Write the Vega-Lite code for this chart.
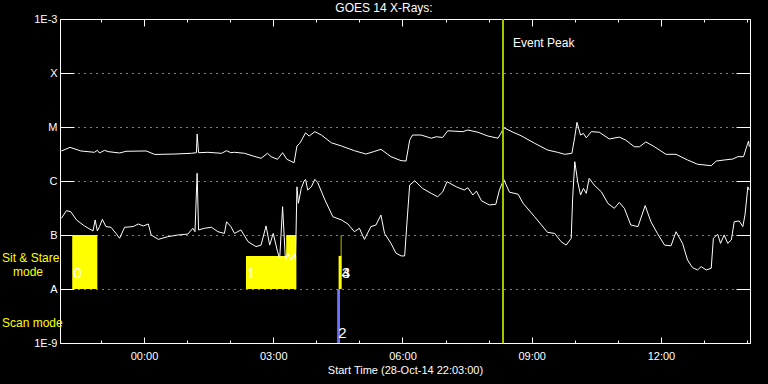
{
  "$schema": "https://vega.github.io/schema/vega-lite/v6.json",
  "width": 690,
  "height": 324,
  "autosize": {"type": "none"},
  "padding": {"left": 60, "top": 19, "right": 18, "bottom": 41},
  "background": "#000000",
  "title": {"text": "GOES 14 X-Rays:", "color": "white", "font": "Liberation Sans", "fontSize": 12, "fontWeight": "normal", "dx": -21, "offset": -2},
  "config": {
    "view": {"stroke": "white", "strokeWidth": 1, "fill": "black"},
    "axis": {"domain": false, "labelColor": "white", "titleColor": "white", "labelFont": "Liberation Sans", "titleFont": "Liberation Sans", "labelFontSize": 11, "titleFontSize": 11, "titleFontWeight": "normal", "tickColor": "white", "gridColor": "white"}
  },
  "datasets": {
    "xrs": [
      {"band": "1-8 A", "t": "2014-10-28T22:05:00Z", "flux": 3.6e-6},
      {"band": "1-8 A", "t": "2014-10-28T22:17:00Z", "flux": 4.2e-6},
      {"band": "1-8 A", "t": "2014-10-28T22:32:00Z", "flux": 3.6e-6},
      {"band": "1-8 A", "t": "2014-10-28T22:51:00Z", "flux": 3.4e-6},
      {"band": "1-8 A", "t": "2014-10-28T22:55:00Z", "flux": 3.7e-6},
      {"band": "1-8 A", "t": "2014-10-28T22:58:00Z", "flux": 3.3e-6},
      {"band": "1-8 A", "t": "2014-10-28T23:05:00Z", "flux": 3.7e-6},
      {"band": "1-8 A", "t": "2014-10-28T23:10:00Z", "flux": 3.5e-6},
      {"band": "1-8 A", "t": "2014-10-28T23:26:00Z", "flux": 3.3e-6},
      {"band": "1-8 A", "t": "2014-10-28T23:35:00Z", "flux": 3.55e-6},
      {"band": "1-8 A", "t": "2014-10-29T00:03:00Z", "flux": 3.6e-6},
      {"band": "1-8 A", "t": "2014-10-29T00:15:00Z", "flux": 3.1e-6},
      {"band": "1-8 A", "t": "2014-10-29T00:43:00Z", "flux": 3.16e-6},
      {"band": "1-8 A", "t": "2014-10-29T01:06:00Z", "flux": 3.26e-6},
      {"band": "1-8 A", "t": "2014-10-29T01:13:00Z", "flux": 3.34e-6},
      {"band": "1-8 A", "t": "2014-10-29T01:14:00Z", "flux": 7.4e-6},
      {"band": "1-8 A", "t": "2014-10-29T01:16:00Z", "flux": 3.34e-6},
      {"band": "1-8 A", "t": "2014-10-29T01:29:00Z", "flux": 3.4e-6},
      {"band": "1-8 A", "t": "2014-10-29T01:48:00Z", "flux": 3.26e-6},
      {"band": "1-8 A", "t": "2014-10-29T01:55:00Z", "flux": 3.64e-6},
      {"band": "1-8 A", "t": "2014-10-29T02:01:00Z", "flux": 3.34e-6},
      {"band": "1-8 A", "t": "2014-10-29T02:06:00Z", "flux": 3.4e-6},
      {"band": "1-8 A", "t": "2014-10-29T02:20:00Z", "flux": 3.26e-6},
      {"band": "1-8 A", "t": "2014-10-29T02:32:00Z", "flux": 2.9e-6},
      {"band": "1-8 A", "t": "2014-10-29T02:43:00Z", "flux": 2.63e-6},
      {"band": "1-8 A", "t": "2014-10-29T02:52:00Z", "flux": 3.26e-6},
      {"band": "1-8 A", "t": "2014-10-29T02:57:00Z", "flux": 2.82e-6},
      {"band": "1-8 A", "t": "2014-10-29T03:06:00Z", "flux": 2.52e-6},
      {"band": "1-8 A", "t": "2014-10-29T03:13:00Z", "flux": 3.34e-6},
      {"band": "1-8 A", "t": "2014-10-29T03:19:00Z", "flux": 2.52e-6},
      {"band": "1-8 A", "t": "2014-10-29T03:29:00Z", "flux": 2.18e-6},
      {"band": "1-8 A", "t": "2014-10-29T03:33:00Z", "flux": 4.45e-6},
      {"band": "1-8 A", "t": "2014-10-29T03:37:00Z", "flux": 5.0e-6},
      {"band": "1-8 A", "t": "2014-10-29T03:41:00Z", "flux": 6.2e-6},
      {"band": "1-8 A", "t": "2014-10-29T03:45:00Z", "flux": 7.8e-6},
      {"band": "1-8 A", "t": "2014-10-29T03:50:00Z", "flux": 6.8e-6},
      {"band": "1-8 A", "t": "2014-10-29T03:58:00Z", "flux": 8.2e-6},
      {"band": "1-8 A", "t": "2014-10-29T04:07:00Z", "flux": 7.1e-6},
      {"band": "1-8 A", "t": "2014-10-29T04:21:00Z", "flux": 5.1e-6},
      {"band": "1-8 A", "t": "2014-10-29T04:35:00Z", "flux": 4.45e-6},
      {"band": "1-8 A", "t": "2014-10-29T04:53:00Z", "flux": 3.64e-6},
      {"band": "1-8 A", "t": "2014-10-29T05:09:00Z", "flux": 3.16e-6},
      {"band": "1-8 A", "t": "2014-10-29T05:20:00Z", "flux": 3.5e-6},
      {"band": "1-8 A", "t": "2014-10-29T05:30:00Z", "flux": 3.86e-6},
      {"band": "1-8 A", "t": "2014-10-29T05:44:00Z", "flux": 2.82e-6},
      {"band": "1-8 A", "t": "2014-10-29T05:58:00Z", "flux": 2.38e-6},
      {"band": "1-8 A", "t": "2014-10-29T06:05:00Z", "flux": 2.34e-6},
      {"band": "1-8 A", "t": "2014-10-29T06:10:00Z", "flux": 5.7e-6},
      {"band": "1-8 A", "t": "2014-10-29T06:14:00Z", "flux": 7.1e-6},
      {"band": "1-8 A", "t": "2014-10-29T06:26:00Z", "flux": 7.1e-6},
      {"band": "1-8 A", "t": "2014-10-29T06:40:00Z", "flux": 6.2e-6},
      {"band": "1-8 A", "t": "2014-10-29T06:47:00Z", "flux": 6.6e-6},
      {"band": "1-8 A", "t": "2014-10-29T06:56:00Z", "flux": 6.4e-6},
      {"band": "1-8 A", "t": "2014-10-29T07:03:00Z", "flux": 8.5e-6},
      {"band": "1-8 A", "t": "2014-10-29T07:24:00Z", "flux": 8.2e-6},
      {"band": "1-8 A", "t": "2014-10-29T07:31:00Z", "flux": 8.8e-6},
      {"band": "1-8 A", "t": "2014-10-29T07:45:00Z", "flux": 8.0e-6},
      {"band": "1-8 A", "t": "2014-10-29T07:59:00Z", "flux": 6.8e-6},
      {"band": "1-8 A", "t": "2014-10-29T08:13:00Z", "flux": 6.2e-6},
      {"band": "1-8 A", "t": "2014-10-29T08:17:00Z", "flux": 7.6e-6},
      {"band": "1-8 A", "t": "2014-10-29T08:21:00Z", "flux": 9.7e-6},
      {"band": "1-8 A", "t": "2014-10-29T08:34:00Z", "flux": 8.0e-6},
      {"band": "1-8 A", "t": "2014-10-29T08:45:00Z", "flux": 6.9e-6},
      {"band": "1-8 A", "t": "2014-10-29T09:04:00Z", "flux": 5.0e-6},
      {"band": "1-8 A", "t": "2014-10-29T09:22:00Z", "flux": 3.75e-6},
      {"band": "1-8 A", "t": "2014-10-29T09:36:00Z", "flux": 3.4e-6},
      {"band": "1-8 A", "t": "2014-10-29T09:46:00Z", "flux": 3.12e-6},
      {"band": "1-8 A", "t": "2014-10-29T09:56:00Z", "flux": 3.26e-6},
      {"band": "1-8 A", "t": "2014-10-29T10:00:00Z", "flux": 6.6e-6},
      {"band": "1-8 A", "t": "2014-10-29T10:03:00Z", "flux": 1.22e-5},
      {"band": "1-8 A", "t": "2014-10-29T10:08:00Z", "flux": 7.1e-6},
      {"band": "1-8 A", "t": "2014-10-29T10:12:00Z", "flux": 7.6e-6},
      {"band": "1-8 A", "t": "2014-10-29T10:16:00Z", "flux": 6.3e-6},
      {"band": "1-8 A", "t": "2014-10-29T10:23:00Z", "flux": 8.2e-6},
      {"band": "1-8 A", "t": "2014-10-29T10:34:00Z", "flux": 8.0e-6},
      {"band": "1-8 A", "t": "2014-10-29T10:48:00Z", "flux": 6.0e-6},
      {"band": "1-8 A", "t": "2014-10-29T11:02:00Z", "flux": 6.5e-6},
      {"band": "1-8 A", "t": "2014-10-29T11:11:00Z", "flux": 5.7e-6},
      {"band": "1-8 A", "t": "2014-10-29T11:23:00Z", "flux": 4.3e-6},
      {"band": "1-8 A", "t": "2014-10-29T11:30:00Z", "flux": 4.3e-6},
      {"band": "1-8 A", "t": "2014-10-29T11:39:00Z", "flux": 5.3e-6},
      {"band": "1-8 A", "t": "2014-10-29T11:51:00Z", "flux": 4.3e-6},
      {"band": "1-8 A", "t": "2014-10-29T12:07:00Z", "flux": 3.12e-6},
      {"band": "1-8 A", "t": "2014-10-29T12:21:00Z", "flux": 3.12e-6},
      {"band": "1-8 A", "t": "2014-10-29T12:37:00Z", "flux": 2.45e-6},
      {"band": "1-8 A", "t": "2014-10-29T12:51:00Z", "flux": 2.04e-6},
      {"band": "1-8 A", "t": "2014-10-29T13:10:00Z", "flux": 1.92e-6},
      {"band": "1-8 A", "t": "2014-10-29T13:17:00Z", "flux": 2.34e-6},
      {"band": "1-8 A", "t": "2014-10-29T13:28:00Z", "flux": 2.45e-6},
      {"band": "1-8 A", "t": "2014-10-29T13:40:00Z", "flux": 2.55e-6},
      {"band": "1-8 A", "t": "2014-10-29T13:47:00Z", "flux": 2.82e-6},
      {"band": "1-8 A", "t": "2014-10-29T13:55:00Z", "flux": 2.82e-6},
      {"band": "1-8 A", "t": "2014-10-29T14:00:00Z", "flux": 4.6e-6},
      {"band": "1-8 A", "t": "2014-10-29T14:02:00Z", "flux": 5.5e-6},
      {"band": "1-8 A", "t": "2014-10-29T14:03:00Z", "flux": 4.3e-6},
      {"band": "0.5-4 A", "t": "2014-10-28T22:05:00Z", "flux": 2.04e-7},
      {"band": "0.5-4 A", "t": "2014-10-28T22:12:00Z", "flux": 2.82e-7},
      {"band": "0.5-4 A", "t": "2014-10-28T22:18:00Z", "flux": 2.7e-7},
      {"band": "0.5-4 A", "t": "2014-10-28T22:26:00Z", "flux": 1.9e-7},
      {"band": "0.5-4 A", "t": "2014-10-28T22:37:00Z", "flux": 1.47e-7},
      {"band": "0.5-4 A", "t": "2014-10-28T22:49:00Z", "flux": 1.19e-7},
      {"band": "0.5-4 A", "t": "2014-10-28T22:52:00Z", "flux": 1.9e-7},
      {"band": "0.5-4 A", "t": "2014-10-28T22:55:00Z", "flux": 1.19e-7},
      {"band": "0.5-4 A", "t": "2014-10-28T22:58:00Z", "flux": 1.43e-7},
      {"band": "0.5-4 A", "t": "2014-10-28T23:02:00Z", "flux": 1.95e-7},
      {"band": "0.5-4 A", "t": "2014-10-28T23:07:00Z", "flux": 1.43e-7},
      {"band": "0.5-4 A", "t": "2014-10-28T23:14:00Z", "flux": 1.39e-7},
      {"band": "0.5-4 A", "t": "2014-10-28T23:21:00Z", "flux": 1.07e-7},
      {"band": "0.5-4 A", "t": "2014-10-28T23:26:00Z", "flux": 8.7e-8},
      {"band": "0.5-4 A", "t": "2014-10-28T23:33:00Z", "flux": 1.39e-7},
      {"band": "0.5-4 A", "t": "2014-10-28T23:45:00Z", "flux": 1.43e-7},
      {"band": "0.5-4 A", "t": "2014-10-28T23:52:00Z", "flux": 1.6e-7},
      {"band": "0.5-4 A", "t": "2014-10-28T23:59:00Z", "flux": 1.47e-7},
      {"band": "0.5-4 A", "t": "2014-10-29T00:06:00Z", "flux": 1.6e-7},
      {"band": "0.5-4 A", "t": "2014-10-29T00:10:00Z", "flux": 1.0e-7},
      {"band": "0.5-4 A", "t": "2014-10-29T00:20:00Z", "flux": 8.3e-8},
      {"band": "0.5-4 A", "t": "2014-10-29T00:33:00Z", "flux": 9.3e-8},
      {"band": "0.5-4 A", "t": "2014-10-29T00:47:00Z", "flux": 1.0e-7},
      {"band": "0.5-4 A", "t": "2014-10-29T01:01:00Z", "flux": 1.04e-7},
      {"band": "0.5-4 A", "t": "2014-10-29T01:08:00Z", "flux": 1.33e-7},
      {"band": "0.5-4 A", "t": "2014-10-29T01:11:00Z", "flux": 1.15e-7},
      {"band": "0.5-4 A", "t": "2014-10-29T01:14:00Z", "flux": 1.39e-6},
      {"band": "0.5-4 A", "t": "2014-10-29T01:16:00Z", "flux": 1.24e-7},
      {"band": "0.5-4 A", "t": "2014-10-29T01:24:00Z", "flux": 1.33e-7},
      {"band": "0.5-4 A", "t": "2014-10-29T01:34:00Z", "flux": 1.39e-7},
      {"band": "0.5-4 A", "t": "2014-10-29T01:43:00Z", "flux": 1.15e-7},
      {"band": "0.5-4 A", "t": "2014-10-29T01:52:00Z", "flux": 1.07e-7},
      {"band": "0.5-4 A", "t": "2014-10-29T01:55:00Z", "flux": 1.76e-7},
      {"band": "0.5-4 A", "t": "2014-10-29T02:01:00Z", "flux": 1.43e-7},
      {"band": "0.5-4 A", "t": "2014-10-29T02:06:00Z", "flux": 1.07e-7},
      {"band": "0.5-4 A", "t": "2014-10-29T02:15:00Z", "flux": 1.24e-7},
      {"band": "0.5-4 A", "t": "2014-10-29T02:25:00Z", "flux": 7.5e-8},
      {"band": "0.5-4 A", "t": "2014-10-29T02:36:00Z", "flux": 6.1e-8},
      {"band": "0.5-4 A", "t": "2014-10-29T02:43:00Z", "flux": 6.5e-8},
      {"band": "0.5-4 A", "t": "2014-10-29T02:50:00Z", "flux": 1.47e-7},
      {"band": "0.5-4 A", "t": "2014-10-29T02:55:00Z", "flux": 6.5e-8},
      {"band": "0.5-4 A", "t": "2014-10-29T03:00:00Z", "flux": 1.07e-7},
      {"band": "0.5-4 A", "t": "2014-10-29T03:06:00Z", "flux": 4.9e-8},
      {"band": "0.5-4 A", "t": "2014-10-29T03:09:00Z", "flux": 3.7e-8},
      {"band": "0.5-4 A", "t": "2014-10-29T03:13:00Z", "flux": 3.34e-7},
      {"band": "0.5-4 A", "t": "2014-10-29T03:17:00Z", "flux": 3.44e-8},
      {"band": "0.5-4 A", "t": "2014-10-29T03:20:00Z", "flux": 4.6e-8},
      {"band": "0.5-4 A", "t": "2014-10-29T03:25:00Z", "flux": 3.44e-8},
      {"band": "0.5-4 A", "t": "2014-10-29T03:29:00Z", "flux": 4.6e-8},
      {"band": "0.5-4 A", "t": "2014-10-29T03:31:00Z", "flux": 3.44e-8},
      {"band": "0.5-4 A", "t": "2014-10-29T03:33:00Z", "flux": 7.8e-7},
      {"band": "0.5-4 A", "t": "2014-10-29T03:35:00Z", "flux": 3.86e-7},
      {"band": "0.5-4 A", "t": "2014-10-29T03:39:00Z", "flux": 7.3e-7},
      {"band": "0.5-4 A", "t": "2014-10-29T03:43:00Z", "flux": 1.0e-6},
      {"band": "0.5-4 A", "t": "2014-10-29T03:45:00Z", "flux": 1.07e-6},
      {"band": "0.5-4 A", "t": "2014-10-29T03:48:00Z", "flux": 6.8e-7},
      {"band": "0.5-4 A", "t": "2014-10-29T03:53:00Z", "flux": 7.8e-7},
      {"band": "0.5-4 A", "t": "2014-10-29T03:58:00Z", "flux": 1.07e-6},
      {"band": "0.5-4 A", "t": "2014-10-29T04:02:00Z", "flux": 9.3e-7},
      {"band": "0.5-4 A", "t": "2014-10-29T04:12:00Z", "flux": 4.45e-7},
      {"band": "0.5-4 A", "t": "2014-10-29T04:23:00Z", "flux": 2.18e-7},
      {"band": "0.5-4 A", "t": "2014-10-29T04:35:00Z", "flux": 1.9e-7},
      {"band": "0.5-4 A", "t": "2014-10-29T04:44:00Z", "flux": 1.6e-7},
      {"band": "0.5-4 A", "t": "2014-10-29T04:53:00Z", "flux": 1.15e-7},
      {"band": "0.5-4 A", "t": "2014-10-29T05:00:00Z", "flux": 1.33e-7},
      {"band": "0.5-4 A", "t": "2014-10-29T05:07:00Z", "flux": 8.3e-8},
      {"band": "0.5-4 A", "t": "2014-10-29T05:16:00Z", "flux": 1.43e-7},
      {"band": "0.5-4 A", "t": "2014-10-29T05:23:00Z", "flux": 1.53e-7},
      {"band": "0.5-4 A", "t": "2014-10-29T05:30:00Z", "flux": 2.34e-7},
      {"band": "0.5-4 A", "t": "2014-10-29T05:35:00Z", "flux": 1.07e-7},
      {"band": "0.5-4 A", "t": "2014-10-29T05:44:00Z", "flux": 7.0e-8},
      {"band": "0.5-4 A", "t": "2014-10-29T05:51:00Z", "flux": 4.6e-8},
      {"band": "0.5-4 A", "t": "2014-10-29T05:58:00Z", "flux": 4.1e-8},
      {"band": "0.5-4 A", "t": "2014-10-29T06:03:00Z", "flux": 4.1e-8},
      {"band": "0.5-4 A", "t": "2014-10-29T06:07:00Z", "flux": 2.34e-7},
      {"band": "0.5-4 A", "t": "2014-10-29T06:10:00Z", "flux": 8.4e-7},
      {"band": "0.5-4 A", "t": "2014-10-29T06:17:00Z", "flux": 1.01e-6},
      {"band": "0.5-4 A", "t": "2014-10-29T06:28:00Z", "flux": 7.3e-7},
      {"band": "0.5-4 A", "t": "2014-10-29T06:40:00Z", "flux": 5.9e-7},
      {"band": "0.5-4 A", "t": "2014-10-29T06:49:00Z", "flux": 5.1e-7},
      {"band": "0.5-4 A", "t": "2014-10-29T06:56:00Z", "flux": 6.3e-7},
      {"band": "0.5-4 A", "t": "2014-10-29T07:02:00Z", "flux": 9.7e-7},
      {"band": "0.5-4 A", "t": "2014-10-29T07:15:00Z", "flux": 7.8e-7},
      {"band": "0.5-4 A", "t": "2014-10-29T07:26:00Z", "flux": 6.8e-7},
      {"band": "0.5-4 A", "t": "2014-10-29T07:31:00Z", "flux": 7.5e-7},
      {"band": "0.5-4 A", "t": "2014-10-29T07:38:00Z", "flux": 5.5e-7},
      {"band": "0.5-4 A", "t": "2014-10-29T07:43:00Z", "flux": 6.5e-7},
      {"band": "0.5-4 A", "t": "2014-10-29T07:50:00Z", "flux": 4.3e-7},
      {"band": "0.5-4 A", "t": "2014-10-29T08:01:00Z", "flux": 3.6e-7},
      {"band": "0.5-4 A", "t": "2014-10-29T08:10:00Z", "flux": 3.7e-7},
      {"band": "0.5-4 A", "t": "2014-10-29T08:15:00Z", "flux": 6.8e-7},
      {"band": "0.5-4 A", "t": "2014-10-29T08:21:00Z", "flux": 1.07e-6},
      {"band": "0.5-4 A", "t": "2014-10-29T08:29:00Z", "flux": 6.2e-7},
      {"band": "0.5-4 A", "t": "2014-10-29T08:41:00Z", "flux": 5.7e-7},
      {"band": "0.5-4 A", "t": "2014-10-29T08:48:00Z", "flux": 3.86e-7},
      {"band": "0.5-4 A", "t": "2014-10-29T09:04:00Z", "flux": 2.18e-7},
      {"band": "0.5-4 A", "t": "2014-10-29T09:22:00Z", "flux": 1.12e-7},
      {"band": "0.5-4 A", "t": "2014-10-29T09:32:00Z", "flux": 1.07e-7},
      {"band": "0.5-4 A", "t": "2014-10-29T09:41:00Z", "flux": 7.5e-8},
      {"band": "0.5-4 A", "t": "2014-10-29T09:48:00Z", "flux": 6.5e-8},
      {"band": "0.5-4 A", "t": "2014-10-29T09:55:00Z", "flux": 8.7e-8},
      {"band": "0.5-4 A", "t": "2014-10-29T09:57:00Z", "flux": 4.8e-7},
      {"band": "0.5-4 A", "t": "2014-10-29T10:00:00Z", "flux": 2.28e-6},
      {"band": "0.5-4 A", "t": "2014-10-29T10:04:00Z", "flux": 9.7e-7},
      {"band": "0.5-4 A", "t": "2014-10-29T10:08:00Z", "flux": 5.5e-7},
      {"band": "0.5-4 A", "t": "2014-10-29T10:12:00Z", "flux": 7.3e-7},
      {"band": "0.5-4 A", "t": "2014-10-29T10:16:00Z", "flux": 5.9e-7},
      {"band": "0.5-4 A", "t": "2014-10-29T10:20:00Z", "flux": 1.12e-6},
      {"band": "0.5-4 A", "t": "2014-10-29T10:27:00Z", "flux": 8.4e-7},
      {"band": "0.5-4 A", "t": "2014-10-29T10:37:00Z", "flux": 6.3e-7},
      {"band": "0.5-4 A", "t": "2014-10-29T10:46:00Z", "flux": 3.86e-7},
      {"band": "0.5-4 A", "t": "2014-10-29T10:55:00Z", "flux": 3.12e-7},
      {"band": "0.5-4 A", "t": "2014-10-29T11:02:00Z", "flux": 4.0e-7},
      {"band": "0.5-4 A", "t": "2014-10-29T11:09:00Z", "flux": 3.12e-7},
      {"band": "0.5-4 A", "t": "2014-10-29T11:18:00Z", "flux": 1.53e-7},
      {"band": "0.5-4 A", "t": "2014-10-29T11:28:00Z", "flux": 1.43e-7},
      {"band": "0.5-4 A", "t": "2014-10-29T11:38:00Z", "flux": 3.5e-7},
      {"band": "0.5-4 A", "t": "2014-10-29T11:46:00Z", "flux": 1.76e-7},
      {"band": "0.5-4 A", "t": "2014-10-29T11:55:00Z", "flux": 1.07e-7},
      {"band": "0.5-4 A", "t": "2014-10-29T12:05:00Z", "flux": 6.5e-8},
      {"band": "0.5-4 A", "t": "2014-10-29T12:14:00Z", "flux": 6.3e-8},
      {"band": "0.5-4 A", "t": "2014-10-29T12:21:00Z", "flux": 1.15e-7},
      {"band": "0.5-4 A", "t": "2014-10-29T12:30:00Z", "flux": 7.0e-8},
      {"band": "0.5-4 A", "t": "2014-10-29T12:37:00Z", "flux": 3.44e-8},
      {"band": "0.5-4 A", "t": "2014-10-29T12:44:00Z", "flux": 2.48e-8},
      {"band": "0.5-4 A", "t": "2014-10-29T12:51:00Z", "flux": 2.25e-8},
      {"band": "0.5-4 A", "t": "2014-10-29T12:56:00Z", "flux": 2.6e-8},
      {"band": "0.5-4 A", "t": "2014-10-29T13:03:00Z", "flux": 2.25e-8},
      {"band": "0.5-4 A", "t": "2014-10-29T13:10:00Z", "flux": 2.42e-8},
      {"band": "0.5-4 A", "t": "2014-10-29T13:13:00Z", "flux": 8.7e-8},
      {"band": "0.5-4 A", "t": "2014-10-29T13:19:00Z", "flux": 1.03e-7},
      {"band": "0.5-4 A", "t": "2014-10-29T13:23:00Z", "flux": 7.0e-8},
      {"band": "0.5-4 A", "t": "2014-10-29T13:28:00Z", "flux": 1.0e-7},
      {"band": "0.5-4 A", "t": "2014-10-29T13:33:00Z", "flux": 7.0e-8},
      {"band": "0.5-4 A", "t": "2014-10-29T13:38:00Z", "flux": 8.1e-8},
      {"band": "0.5-4 A", "t": "2014-10-29T13:42:00Z", "flux": 1.76e-7},
      {"band": "0.5-4 A", "t": "2014-10-29T13:49:00Z", "flux": 1.82e-7},
      {"band": "0.5-4 A", "t": "2014-10-29T13:54:00Z", "flux": 1.43e-7},
      {"band": "0.5-4 A", "t": "2014-10-29T13:57:00Z", "flux": 2.34e-7},
      {"band": "0.5-4 A", "t": "2014-10-29T14:01:00Z", "flux": 7.8e-7},
      {"band": "0.5-4 A", "t": "2014-10-29T14:03:00Z", "flux": 6.8e-7}
    ],
    "modes": [
      {"id": "0", "mode": "Sit & Stare", "start": "2014-10-28T22:20:00Z", "end": "2014-10-28T22:55:00Z", "lo": 1e-8, "hi": 1e-7},
      {"id": "1", "mode": "Sit & Stare", "start": "2014-10-29T02:22:00Z", "end": "2014-10-29T03:32:00Z", "lo": 1e-8, "hi": 4.1e-8},
      {"id": "1b", "mode": "Sit & Stare", "start": "2014-10-29T03:18:00Z", "end": "2014-10-29T03:32:00Z", "lo": 1e-8, "hi": 1e-7},
      {"id": "2", "mode": "Scan", "start": "2014-10-29T04:29:00Z", "end": "2014-10-29T04:33:00Z", "lo": 1e-9, "hi": 1e-8},
      {"id": "3", "mode": "Sit & Stare", "start": "2014-10-29T04:31:00Z", "end": "2014-10-29T04:35:00Z", "lo": 1e-8, "hi": 4.1e-8},
      {"id": "4", "mode": "Sit & Stare", "start": "2014-10-29T04:34:00Z", "end": "2014-10-29T04:35:00Z", "lo": 1e-8, "hi": 1e-7}
    ],
    "modeLabels": [
      {"label": "0", "t": "2014-10-28T22:20:00Z", "flux": 2e-8},
      {"label": "1", "t": "2014-10-29T02:22:00Z", "flux": 2e-8},
      {"label": "2", "t": "2014-10-29T04:29:00Z", "flux": 1.56e-9},
      {"label": "3", "t": "2014-10-29T04:34:00Z", "flux": 2e-8},
      {"label": "4", "t": "2014-10-29T04:34:00Z", "flux": 2e-8}
    ],
    "peak": [
      {"t": "2014-10-29T08:20:00Z", "label": "Event Peak", "flux": 3.6e-4}
    ]
  },
  "layer": [
    {
      "data": {"name": "modes"},
      "mark": {"type": "rect"},
      "encoding": {
        "x": {"field": "start", "type": "temporal", "scale": {"nice": false, "domain": [1414533780000, 1414591440000]},
          "axis": {"orient": "top", "labels": false, "title": null, "grid": false, "values": [1414537200000, 1414540800000, 1414544400000, 1414548000000, 1414551600000, 1414555200000, 1414558800000, 1414562400000, 1414566000000, 1414569600000, 1414573200000, 1414576800000, 1414580400000, 1414584000000, 1414587600000, 1414591200000], "tickSize": {"condition": {"test": "utchours(datum.value) % 3 == 0", "value": -7}, "value": -3}}},
        "x2": {"field": "end"},
        "y": {"field": "lo", "type": "quantitative", "scale": {"type": "log", "domain": [1e-9, 1e-3], "nice": false},
          "axis": {"orient": "right", "labels": false, "title": null, "grid": false, "values": [1e-9, 1e-8, 1e-7, 1e-6, 1e-5, 1e-4, 1e-3], "tickSize": -14}},
        "y2": {"field": "hi"},
        "color": {"field": "mode", "type": "nominal", "scale": {"domain": ["Sit & Stare", "Scan"], "range": ["#ffff00", "#7070ff"]}, "legend": null}
      }
    },
    {
      "data": {"name": "xrs"},
      "mark": {"type": "line", "color": "white", "strokeWidth": 1, "clip": true},
      "encoding": {
        "x": {"field": "t", "type": "temporal", "scale": {"nice": false, "domain": [1414533780000, 1414591440000]},
          "axis": {"orient": "bottom", "title": "Start Time (28-Oct-14 22:03:00)", "grid": false, "values": [1414537200000, 1414540800000, 1414544400000, 1414548000000, 1414551600000, 1414555200000, 1414558800000, 1414562400000, 1414566000000, 1414569600000, 1414573200000, 1414576800000, 1414580400000, 1414584000000, 1414587600000, 1414591200000], "labelExpr": "utchours(datum.value) % 3 == 0 ? utcFormat(datum.value, '%H:%M') : ''", "tickSize": {"condition": {"test": "utchours(datum.value) % 3 == 0", "value": -6}, "value": -3}, "labelPadding": 13, "titlePadding": 0, "labelFlush": false, "labelOverlap": false}},
        "y": {"field": "flux", "type": "quantitative", "scale": {"type": "log", "domain": [1e-9, 1e-3], "nice": false},
          "axis": {"orient": "left", "title": null, "values": [1e-9, 1e-8, 1e-7, 1e-6, 1e-5, 1e-4, 1e-3], "labelExpr": "datum.value < 5e-9 ? '1E-9' : datum.value < 5e-8 ? 'A' : datum.value < 5e-7 ? 'B' : datum.value < 5e-6 ? 'C' : datum.value < 5e-5 ? 'M' : datum.value < 5e-4 ? 'X' : '1E-3'", "tickSize": -14, "labelPadding": 17, "grid": true, "gridDash": [1, 5], "gridColor": "white", "gridOpacity": 1}},
        "detail": {"field": "band", "type": "nominal"}
      }
    },
    {
      "data": {"name": "peak"},
      "mark": {"type": "rule", "color": "#a0c800", "strokeWidth": 2},
      "encoding": {
        "x": {"field": "t", "type": "temporal", "axis": null, "scale": {"nice": false, "domain": [1414533780000, 1414591440000]}}
      }
    },
    {
      "data": {"name": "peak"},
      "mark": {"type": "text", "color": "white", "align": "left", "baseline": "middle", "dx": 10, "font": "Liberation Sans", "fontSize": 12},
      "encoding": {
        "x": {"field": "t", "type": "temporal", "axis": null},
        "y": {"field": "flux", "type": "quantitative", "axis": null},
        "text": {"field": "label"}
      }
    },
    {
      "data": {"name": "modeLabels"},
      "mark": {"type": "text", "color": "white", "align": "left", "baseline": "middle", "dx": 1, "font": "Liberation Sans", "fontSize": 15},
      "encoding": {
        "x": {"field": "t", "type": "temporal", "axis": null},
        "y": {"field": "flux", "type": "quantitative", "axis": null},
        "text": {"field": "label"}
      }
    },
    {
      "data": {"values": [{"text": "Sit & Stare", "t": "2014-10-28T22:03:00Z", "flux": 3.75e-8}, {"text": "Scan mode", "t": "2014-10-28T22:03:00Z", "flux": 2.35e-9}]},
      "mark": {"type": "text", "color": "#ffff00", "align": "left", "baseline": "middle", "dx": -58, "font": "Liberation Sans", "fontSize": 12, "clip": false},
      "encoding": {
        "x": {"field": "t", "type": "temporal", "axis": null},
        "y": {"field": "flux", "type": "quantitative", "axis": null},
        "text": {"field": "text"}
      }
    },
    {
      "data": {"values": [{"text": "mode", "t": "2014-10-28T22:03:00Z", "flux": 2.06e-8}]},
      "mark": {"type": "text", "color": "#ffff00", "align": "left", "baseline": "middle", "dx": -47, "font": "Liberation Sans", "fontSize": 12, "clip": false},
      "encoding": {
        "x": {"field": "t", "type": "temporal", "axis": null},
        "y": {"field": "flux", "type": "quantitative", "axis": null},
        "text": {"field": "text"}
      }
    }
  ],
  "resolve": {"axis": {"x": "independent", "y": "independent"}}
}
